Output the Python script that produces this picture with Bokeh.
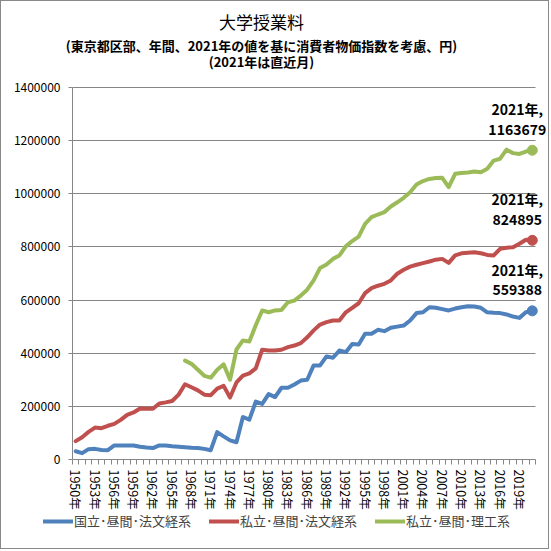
import math
from bokeh.plotting import figure
from bokeh.models import Range1d, FixedTicker, NumeralTickFormatter, Label, Legend, LegendItem
from bokeh.embed import file_html
from bokeh.resources import INLINE

years = list(range(1950, 2022))

national_law = [
    31000, 24000, 39000, 40000, 36000, 35000, 53000, 53000, 53000, 53000,
    48000, 45000, 43000, 53000, 53000, 50000, 48000, 46000, 44000, 43000,
    40000, 35000, 103000, 87000, 72000, 65000, 160000, 150000, 218000, 209000,
    246000, 235000, 270000, 270000, 282000, 297000, 300000, 354000, 354000, 388000,
    383000, 410000, 404000, 435000, 433000, 473000, 473000, 488000, 483000, 496000,
    500000, 504000, 523000, 551000, 554000, 573000, 571000, 566000, 561000, 568000,
    573000, 577000, 576000, 571000, 554000, 552000, 551000, 546000, 538000, 533000,
    554000, 559388,
]

private_law = [
    69000, 84000, 104000, 120000, 118000, 127000, 134000, 149000, 168000, 177000,
    192000, 191000, 191000, 211000, 215000, 220000, 244000, 283000, 272000, 260000,
    244000, 242000, 267000, 277000, 233000, 290000, 316000, 324000, 343000, 413000,
    410000, 410000, 413000, 423000, 429000, 438000, 460000, 486000, 508000, 517000,
    523000, 523000, 554000, 571000, 588000, 626000, 645000, 654000, 661000, 674000,
    699000, 714000, 726000, 733000, 739000, 745000, 752000, 755000, 740000, 768000,
    776000, 778000, 780000, 776000, 770000, 768000, 793000, 797000, 799000, 812000,
    827000, 824895,
]

nan = float("nan")
private_sci = [nan] * 17 + [
    372000, 360000, 338000, 315000, 308000, 338000, 358000, 300000, 414000, 448000,
    444000, 505000, 561000, 554000, 561000, 563000, 592000, 598000, 617000, 639000,
    674000, 721000, 734000, 755000, 768000, 802000, 822000, 839000, 887000, 912000,
    922000, 931000, 952000, 968000, 985000, 1006000, 1035000, 1048000, 1056000, 1059000,
    1060000, 1025000, 1075000, 1078000, 1080000, 1084000, 1081000, 1094000, 1125000, 1132000,
    1166000, 1153000, 1150000, 1159000, 1163679,
]

series_names = ["国立･昼間･法文経系", "私立･昼間･法文経系", "私立･昼間･理工系"]
series_values = [national_law, private_law, private_sci]
series_colors = ["#4F81BD", "#C0504D", "#9BBB59"]

title_lines = ["大学授業料",
               "(東京都区部、年間、2021年の値を基に消費者物価指数を考慮、円)",
               "(2021年は直近月)"]

y_ticks = list(range(0, 1400001, 200000))
x_label_years = list(range(1950, 2022, 3))

JP = "Noto Sans CJK JP"
GRAY = "#868686"

# canvas size and where the plotting area sits in it (pixels)
W = H = 549
FR_L, FR_R, FR_T, FR_B = 71, 534, 86, 458
x0, x1 = years[0] - 0.5, years[-1] + 0.5
y_top = y_ticks[-1]
ppx = (FR_R - FR_L) / (x1 - x0)
ppy = (FR_B - FR_T) / y_top
x_range = Range1d(x0 - FR_L / ppx, x1 + (W - FR_R) / ppx)
y_range = Range1d(-(H - FR_B) / ppy, y_top + FR_T / ppy)

p = figure(width=W, height=H, output_backend="svg", toolbar_location=None,
           x_range=x_range, y_range=y_range, min_border=0)
p.styles = {"border": "1px solid #888888"}
p.outline_line_color = None
p.background_fill_color = "white"
p.border_fill_color = "white"

# y axis
p.yaxis.fixed_location = x0
p.yaxis.bounds = (0, y_top)
p.yaxis.ticker = FixedTicker(ticks=y_ticks)
p.yaxis.formatter = NumeralTickFormatter(format="0")
p.yaxis.major_tick_out = 4
p.yaxis.major_tick_in = 0
p.yaxis.minor_tick_out = 0
p.yaxis.minor_tick_in = 0
p.yaxis.axis_line_color = GRAY
p.yaxis.major_tick_line_color = GRAY
p.yaxis.major_label_text_font = JP
p.yaxis.major_label_text_font_size = "12px"
p.yaxis.major_label_text_color = "black"
p.yaxis.major_label_standoff = 8

# x axis
p.xaxis.fixed_location = 0
p.xaxis.bounds = (x0, x1)
p.xaxis.ticker = FixedTicker(ticks=x_label_years,
                             minor_ticks=[y - 0.5 for y in years] + [years[-1] + 0.5])
p.xaxis.major_label_overrides = {y: f"{y}年" for y in x_label_years}
p.xaxis.major_label_orientation = -math.pi / 2
p.xaxis.major_tick_out = 0
p.xaxis.major_tick_in = 0
p.xaxis.minor_tick_out = 5
p.xaxis.minor_tick_in = 0
p.xaxis.minor_tick_line_color = GRAY
p.xaxis.axis_line_color = GRAY
p.xaxis.major_label_text_font = JP
p.xaxis.major_label_text_font_size = "12.5px"
p.xaxis.major_label_text_color = "black"
p.xaxis.major_label_standoff = 5

p.xgrid.visible = False
p.ygrid.grid_line_color = GRAY
p.ygrid.ticker = FixedTicker(ticks=y_ticks[1:])
p.ygrid.cross_bounds = (x0, x1)

items = []
for name, vals, col in zip(series_names, series_values, series_colors):
    r = p.line(years, vals, line_color=col, line_width=4, line_join="round", line_cap="round")
    p.scatter([years[-1]], [vals[-1]], size=10, fill_color=col, line_color=col)
    items.append(LegendItem(label=name, renderers=[r]))
    for txt, dy in ((f"{years[-1]}年,", 41), (f"{vals[-1]}", 21)):
        p.add_layout(Label(x=years[-1], y=vals[-1], text=txt, x_offset=-15, y_offset=dy,
                           text_align="center", text_baseline="middle", text_font=JP,
                           text_font_style="bold", text_font_size="14px", text_color="black"))

legend = Legend(items=items, orientation="horizontal", location=(42, 20),
                glyph_width=30, glyph_height=16, label_height=16, label_standoff=1,
                spacing=18, padding=0, margin=0, border_line_color=None,
                background_fill_alpha=0, label_text_font=JP, label_text_font_size="13px")
p.add_layout(legend, "center")

# titles (screen units: from the left / bottom of the canvas)
title_y = [H - 20, H - 44, H - 60]
title_sizes = ["17px", "13px", "13px"]
title_styles = ["normal", "bold", "bold"]
for t, ty, ts, st in zip(title_lines, title_y, title_sizes, title_styles):
    p.add_layout(Label(x=260, y=ty, x_units="screen", y_units="screen", text=t,
                       text_align="center", text_baseline="middle", text_font=JP,
                       text_font_size=ts, text_font_style=st, text_color="black"))

open("out.html", "w").write(file_html(p, INLINE))
